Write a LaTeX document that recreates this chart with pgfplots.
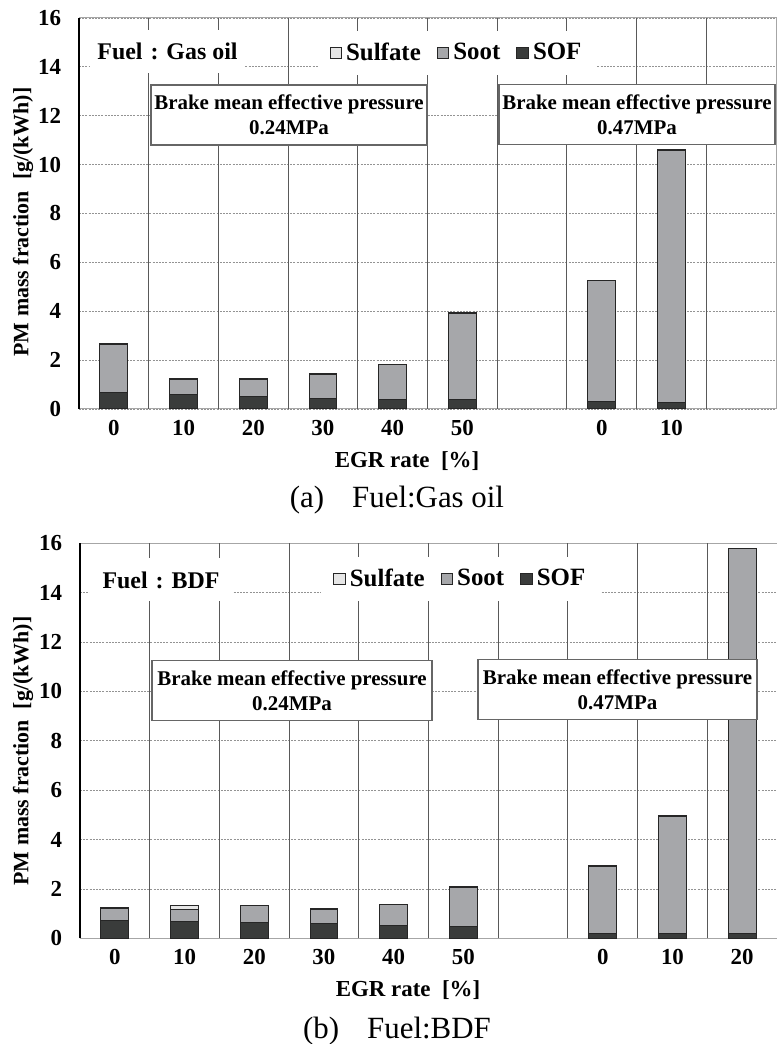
\documentclass[border=0pt]{standalone}
\usepackage{fontspec}
\setmainfont{Liberation Serif}
\usepackage{pgfplots}
\pgfplotsset{compat=1.18}
\definecolor{sulf}{HTML}{E6E6E6}
\definecolor{soot}{HTML}{A6A7AA}
\definecolor{sof}{HTML}{3A3C3B}
\newcommand{\fs}{\fontsize{10.5}{12.5}\selectfont\bfseries}
\newcommand{\ft}{\fontsize{11.5}{13.5}\selectfont\bfseries}
\newcommand{\fl}{\fontsize{12.5}{14.5}\selectfont\bfseries}
\pgfplotsset{pmstyle/.style={
  scale only axis, width=348.5bp,
  ybar stacked, bar width=0.4,
  xmin=-0.5, xmax=9.5, ymin=0, ymax=16,
  ytick={0,2,...,16},
  major tick length=0pt,
  ymajorgrids,
  major grid style={gray!85, line width=0.4bp, dash pattern=on 1bp off 0.6bp},
  extra x ticks={0.5,1.5,...,8.5},
  extra x tick labels={},
  extra x tick style={xmajorgrids=true, ymajorgrids=false, major grid style={solid, black!65, line width=0.5bp}},
  axis line style={gray!70, line width=0.5bp},
  /pgf/number format/assume math mode=true,
  tick label style={font=\ft},
  xticklabel style={yshift=-2bp},
  yticklabel style={xshift=-5.5bp},
  legend columns=3, reverse legend,
  legend style={draw=none, fill=white, font=\fl, anchor=center, inner xsep=6bp, inner ysep=4bp,
    /tikz/every even column/.append style={column sep=6bp}},
  legend image code/.code={\draw[#1, line width=0.5bp] (0bp,-2.9bp) rectangle (5.8bp,2.9bp);},
  every axis plot/.append style={draw=black!85, line width=0.5bp},
  clip=false,
}}
\tikzset{annot/.style={draw=black!60, line width=0.6bp, fill=white, align=center, font=\fs,
  minimum width=138bp, minimum height=30bp, inner sep=1bp},
  fuelbox/.style={fill=white, font=\fontsize{12}{14}\selectfont\bfseries, minimum height=21.5bp, inner sep=0pt}}
\begin{document}
\begin{tikzpicture}
\path[use as bounding box] (0,0) rectangle (388.5bp,522bp);
% ---------- (a) Gas oil ----------
\begin{axis}[pmstyle, height=195.5bp, at={(39.5bp,317.5bp)}, anchor=south west,
  xtick={0,1,2,3,4,5,7,8}, xticklabels={0,10,20,30,40,50,0,10},
  legend style={at={(0.543,0.910)}}]
\addplot[fill=sof] coordinates {(0,0.67) (1,0.61) (2,0.53) (3,0.44) (4,0.37) (5,0.37) (7,0.31) (8,0.28)};
\addplot[fill=soot] coordinates {(0,1.98) (1,0.60) (2,0.69) (3,0.99) (4,1.44) (5,3.55) (7,4.93) (8,10.28)};
\addplot[fill=sulf] coordinates {(0,0.03) (1,0.04) (2,0.03) (3,0.03) (4,0.03) (5,0.03) (7,0.03) (8,0.04)};
\legend{SOF,Soot,Sulfate}
\draw[black, line width=0.6bp] (rel axis cs:0,0) -- (rel axis cs:0,1);
\end{axis}
\node[fuelbox, minimum width=77.5bp] at (83.75bp,496.25bp) {Fuel\,\,:\,\,Gas oil};
\node[annot] at (144.5bp,464.5bp) {Brake mean effective pressure\\0.24MPa};
\node[annot] at (318.5bp,464.75bp) {Brake mean effective pressure\\0.47MPa};
\node[rotate=90, font=\fontsize{11}{13}\selectfont\bfseries] at (11.5bp,411bp) {PM mass fraction\ \ [g/(kWh)]};
\node[font=\fontsize{11.5}{13.5}\selectfont\bfseries] at (203.5bp,291.5bp) {EGR rate\ \ [\%]};
\node[font=\fontsize{15.5}{18}\selectfont] at (198.5bp,272bp) {(a)\hspace{14bp}Fuel:Gas oil};
% ---------- (b) BDF ----------
\begin{axis}[pmstyle, height=197.5bp, at={(40bp,52.85bp)}, anchor=south west,
  xtick={0,1,2,3,4,5,7,8,9}, xticklabels={0,10,20,30,40,50,0,10,20},
  legend style={at={(0.547,0.910)}}]
\addplot[fill=sof] coordinates {(0,0.74) (1,0.70) (2,0.63) (3,0.61) (4,0.50) (5,0.47) (7,0.21) (8,0.20) (9,0.20)};
\addplot[fill=soot] coordinates {(0,0.48) (1,0.47) (2,0.68) (3,0.57) (4,0.85) (5,1.59) (7,2.71) (8,4.73) (9,15.57)};
\addplot[fill=sulf] coordinates {(0,0.03) (1,0.14) (2,0.03) (3,0.03) (4,0.03) (5,0.03) (7,0.02) (8,0.03) (9,0.03)};
\legend{SOF,Soot,Sulfate}
\draw[black, line width=0.6bp] (rel axis cs:0,0) -- (rel axis cs:0,1);
\end{axis}
\node[fuelbox, minimum width=71bp] at (80.5bp,232bp) {Fuel\,\,:\,\,BDF};
\node[annot, minimum width=140bp] at (146bp,176.75bp) {Brake mean effective pressure\\0.24MPa};
\node[annot, minimum width=139.5bp] at (308.75bp,177.25bp) {Brake mean effective pressure\\0.47MPa};
\node[rotate=90, font=\fontsize{11}{13}\selectfont\bfseries] at (11.5bp,146.5bp) {PM mass fraction\ \ [g/(kWh)]};
\node[font=\fontsize{11.5}{13.5}\selectfont\bfseries] at (204bp,27bp) {EGR rate\ \ [\%]};
\node[font=\fontsize{15.5}{18}\selectfont] at (198.5bp,6.5bp) {(b)\hspace{14bp}Fuel:BDF};
\end{tikzpicture}
\end{document}
